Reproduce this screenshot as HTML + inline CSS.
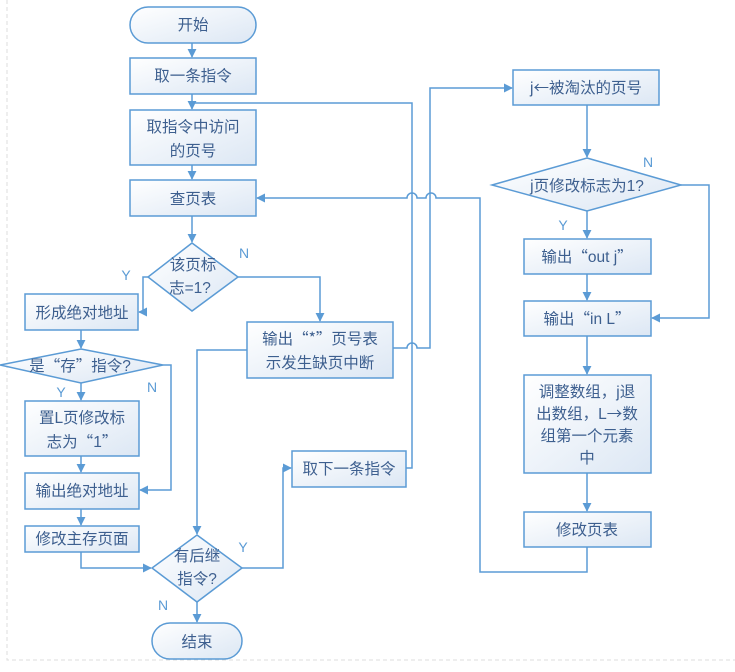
<!DOCTYPE html>
<html><head><meta charset="utf-8"><style>
body{margin:0;background:#fff}
svg{display:block}
text{font-family:"Liberation Sans","Noto Sans CJK SC",sans-serif;font-size:15.5px;fill:#3d5f8f;text-anchor:middle}
.q{font-family:"Noto Sans CJK SC",sans-serif}
.l{fill:none;stroke:#5b9bd5;stroke-width:1.5}
.b{fill:url(#g);stroke:#5b9bd5;stroke-width:1.5}
.yn{fill:#5b9bd5;font-size:14px}
</style></head><body>
<svg width="735" height="672" viewBox="0 0 735 672">
<defs>
<linearGradient id="g" x1="0" y1="0" x2="1" y2="1"><stop offset="0" stop-color="#ffffff"/><stop offset="1" stop-color="#dce7f4"/></linearGradient>
<marker id="a" viewBox="0 0 10 10" refX="9" refY="5" markerWidth="6" markerHeight="6" orient="auto"><path d="M0,0L10,5L0,10z" fill="#5b9bd5"/></marker>
</defs>
<path d="M7,0V660H735" fill="none" stroke="#ddd" stroke-dasharray="4,3"/>
<path class="l" d="M192,43V57" marker-end="url(#a)"/>
<path class="l" d="M192,94V109" marker-end="url(#a)"/>
<path class="l" d="M192,165V179" marker-end="url(#a)"/>
<path class="l" d="M192,216V242" marker-end="url(#a)"/>
<path class="l" d="M406,468H412V103H192"/>
<path class="l" d="M587,547V572H480V198H436a5,5 0 0 0 -10,0H417a5,5 0 0 0 -10,0H257" marker-end="url(#a)"/>
<path class="l" d="M148,277H143V312H139" marker-end="url(#a)"/>
<path class="l" d="M238,277H320V321" marker-end="url(#a)"/>
<path class="l" d="M393,348H407a5,5 0 0 1 10,0H430V88H512" marker-end="url(#a)"/>
<path class="l" d="M247,350H197V534" marker-end="url(#a)"/>
<path class="l" d="M81,330V348" marker-end="url(#a)"/>
<path class="l" d="M81,383V400" marker-end="url(#a)"/>
<path class="l" d="M163,365H171V490H140" marker-end="url(#a)"/>
<path class="l" d="M81,456V472" marker-end="url(#a)"/>
<path class="l" d="M81,509V525" marker-end="url(#a)"/>
<path class="l" d="M81,552V568H151" marker-end="url(#a)"/>
<path class="l" d="M242,568H283V468H291" marker-end="url(#a)"/>
<path class="l" d="M197,602V622" marker-end="url(#a)"/>
<path class="l" d="M587,105V157" marker-end="url(#a)"/>
<path class="l" d="M587,211V238" marker-end="url(#a)"/>
<path class="l" d="M681,185H709V318H652" marker-end="url(#a)"/>
<path class="l" d="M587,274V300" marker-end="url(#a)"/>
<path class="l" d="M587,336V374" marker-end="url(#a)"/>
<path class="l" d="M587,473V511" marker-end="url(#a)"/>
<rect class="b" x="130" y="7" width="126" height="36" rx="18"/><text x="193" y="30">开始</text>
<rect class="b" x="130" y="58" width="126" height="36"/><text x="193" y="81">取一条指令</text>
<rect class="b" x="130" y="110" width="126" height="55"/><text x="193" y="132">取指令中访问</text><text x="193" y="156">的页号</text>
<rect class="b" x="130" y="180" width="126" height="36"/><text x="193" y="204">查页表</text>
<path class="b" d="M192,243L238,277L192,311L148,277z"/><text x="193" y="270">该页标</text><text x="190" y="293">志=1?</text>
<text class="yn" x="126" y="280">Y</text><text class="yn" x="244" y="258">N</text>
<rect class="b" x="25" y="294" width="113" height="36"/><text x="82" y="318">形成绝对地址</text>
<rect class="b" x="247" y="322" width="146" height="56"/><text x="320" y="344">输出<tspan class="q">“*”</tspan>页号表</text><text x="320" y="368">示发生缺页中断</text>
<path class="b" d="M81,349L163,365L81,383L0,365z"/><text x="80" y="371">是<tspan class="q">“存”</tspan>指令?</text>
<text class="yn" x="61" y="397">Y</text><text class="yn" x="152" y="392">N</text>
<rect class="b" x="25" y="401" width="114" height="55"/><text x="82" y="423">置L页修改标</text><text x="82" y="447">志为<tspan class="q">“</tspan>1<tspan class="q">”</tspan></text>
<rect class="b" x="25" y="473" width="114" height="36"/><text x="82" y="496">输出绝对地址</text>
<rect class="b" x="25" y="526" width="114" height="26"/><text x="82" y="544">修改主存页面</text>
<rect class="b" x="292" y="451" width="114" height="36"/><text x="349" y="474">取下一条指令</text>
<path class="b" d="M197,535L242,568L197,602L152,568z"/><text x="197" y="561">有后继</text><text x="197" y="584">指令?</text>
<text class="yn" x="243" y="552">Y</text><text class="yn" x="163" y="610">N</text>
<rect class="b" x="152" y="623" width="90" height="36" rx="18"/><text x="197" y="647">结束</text>
<rect class="b" x="513" y="70" width="146" height="35"/><text x="586" y="93">j<tspan class="q">←</tspan>被淘汰的页号</text>
<path class="b" d="M587,158L681,185L587,211L492,185z"/><text x="587" y="191">j页修改标志为1?</text>
<text class="yn" x="648" y="167">N</text><text class="yn" x="563" y="230">Y</text>
<rect class="b" x="524" y="239" width="127" height="35"/><text x="587" y="262">输出<tspan class="q">“</tspan>out j<tspan class="q">”</tspan></text>
<rect class="b" x="524" y="301" width="127" height="35"/><text x="587" y="324">输出<tspan class="q">“</tspan>in L<tspan class="q">”</tspan></text>
<rect class="b" x="524" y="375" width="127" height="98"/><text x="587" y="397">调整数组，j退</text><text x="587" y="419">出数组，L<tspan class="q">→</tspan>数</text><text x="587" y="441">组第一个元素</text><text x="587" y="463">中</text>
<rect class="b" x="524" y="512" width="127" height="35"/><text x="587" y="535">修改页表</text>
</svg>
</body></html>
